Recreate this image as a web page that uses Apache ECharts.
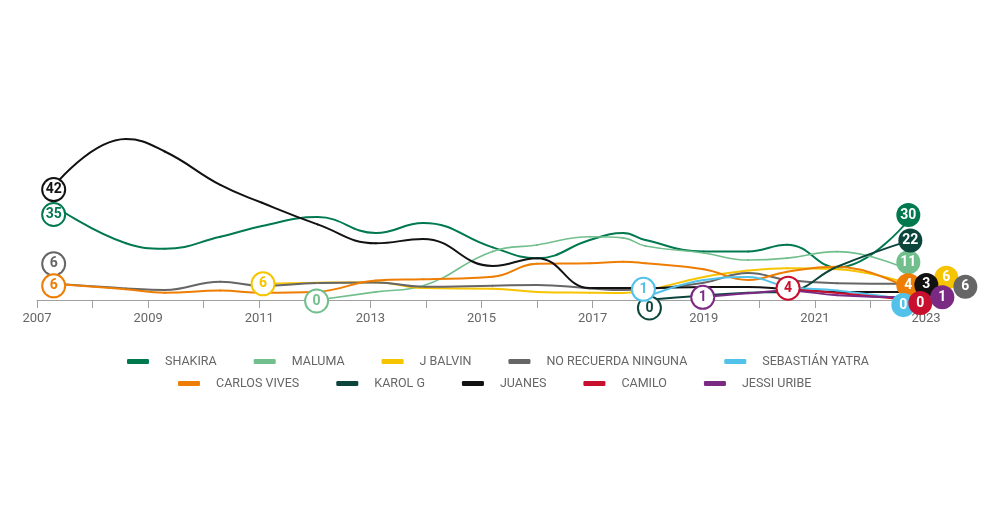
<!DOCTYPE html>
<html>
<head>
<meta charset="utf-8">
<script src="https://cdn.jsdelivr.net/npm/echarts@6/dist/echarts.min.js"></script>
<style>
  html, body { margin: 0; padding: 0; background: #fff; }
  #chart { width: 1000px; height: 530px; }
</style>
</head>
<body>
<div id="chart"></div>
<script>
// Survey dates (fractional years) and values (%) per artist
const dates = [2007.3, 2008.6, 2009.3, 2010.3, 2011.05, 2012.05, 2013.1, 2013.95, 2015.2, 2016.0, 2016.95, 2017.55, 2017.95, 2019.0, 2019.8, 2020.5, 2021.4, 2022.7];

const names = ['SHAKIRA', 'MALUMA', 'J BALVIN', 'NO RECUERDA NINGUNA', 'SEBASTIÁN YATRA',
               'CARLOS VIVES', 'KAROL G', 'JUANES', 'CAMILO', 'JESSI URIBE'];

const shakira     = [35, 21, 19, 23.4, 27.4, 30.7, 24.8, 28.5, 19.5, 15.5, 22.2, 24.8, 22.2, 18, 18, 20.5, 12, 30];
const maluma      = [null, null, null, null, null, 0, 3, 5.3, 18, 20.4, 23.4, 23, 20, 17.4, 14.8, 15.5, 17.9, 11];
const jbalvin     = [null, null, null, null, 6, 6.4, 6.6, 4.4, 4.2, 3, 2.7, 2.6, 3.5, 8.5, 10.9, 11.8, 11.4, 6];
const noRecuerda  = [6, 4.3, 3.7, 6.8, 5.2, 6.3, 6.5, 4.9, 5.3, 5.6, 4.3, 3.7, 4, 6.4, 10, 7.4, 6.2, 6];
const yatra       = [null, null, null, null, null, null, null, null, null, null, null, null, 1, 7.4, 8.5, 4.9, 3.5, 0];
const carlosVives = [6, 4, 2.7, 3.5, 2.7, 3.1, 7.2, 7.7, 8.6, 13.4, 13.6, 14.2, 13.6, 11.4, 7.4, 10.5, 12.3, 4];
const karolG      = [null, null, null, null, null, null, null, null, null, null, null, null, 0, 1.7, 2.7, 3.1, 12.3, 22];
const juanes      = [42, 59.6, 55, 42.6, 36, 28, 21, 22.6, 12.6, 15.5, 4.4, 4.4, 4.4, 4.8, 4.8, 4, 3, 3];
const camilo      = [null, null, null, null, null, null, null, null, null, null, null, null, null, null, null, 4, 2.6, 0];
const jessiUribe  = [null, null, null, null, null, null, null, null, null, null, null, null, null, 1, 2.5, 3.4, 1.8, 1];

const values = [shakira, maluma, jbalvin, noRecuerda, yatra, carlosVives, karolG, juanes, camilo, jessiUribe];

// Styling
const colors = ['#00794f', '#72bf8d', '#f6c400', '#666666', '#52c2ea',
                '#ee7d03', '#0c453c', '#121212', '#c8102e', '#7b2a84'];
// label offsets (px) for the first point and the last point of each series
const startOffset = [[0, 9], [-1, 1], [1, 0], [0, -20], [-2, -8], [0, 2], [4, 8], [0, 3], [1, -1], [-1, 0]];
const endOffset   = [[-1, -4], [-1, -8], [37, -6], [56, 3], [-6, 5], [-1, -4], [1, 0], [17, -7], [11, 3], [33, 0]];
const seriesZ     = [2, 2, 2, 2, 3, 2, 2, 2, 3, 3];

function outlineLabel(c, off, v) {
  return {
    show: true, position: 'inside', offset: off,
    formatter: () => String(v),
    color: c, fontWeight: 'bold', fontSize: 14, fontFamily: 'Roboto',
    backgroundColor: '#ffffff', borderColor: c, borderWidth: 2, borderRadius: 13,
    width: 21, height: 21, lineHeight: 21, align: 'center', verticalAlign: 'middle', padding: 0
  };
}
function filledLabel(c, off, v) {
  return {
    show: true, position: 'inside', offset: off,
    formatter: () => String(v),
    color: '#ffffff', fontWeight: 'bold', fontSize: 14, fontFamily: 'Roboto',
    backgroundColor: c, borderRadius: 12,
    width: 24, height: 24, lineHeight: 24, align: 'center', verticalAlign: 'middle', padding: 0
  };
}

const series = names.map((name, si) => {
  const vals = values[si];
  const pts = [];
  vals.forEach((v, i) => { if (v !== null) pts.push([dates[i], v]); });
  const data = pts.map((p, k) => {
    const item = { value: p };
    if (k === 0) item.label = outlineLabel(colors[si], startOffset[si], Math.round(p[1]));
    if (k === pts.length - 1) item.label = filledLabel(colors[si], endOffset[si], Math.round(p[1]));
    return item;
  });
  return {
    name: name,
    type: 'line',
    smooth: 0.45,
    z: seriesZ[si],
    data: data,
    symbol: 'circle',
    symbolSize: 2,
    showSymbol: true,
    lineStyle: { width: si === 1 ? 1.6 : 2, color: colors[si] },
    itemStyle: { color: colors[si] },
    emphasis: { disabled: true },
    label: { show: false }
  };
});

const legendCommon = {
  icon: 'roundRect',
  itemWidth: 22,
  itemHeight: 5,
  itemGap: 37,
  textStyle: { color: '#666', fontSize: 12.5, fontFamily: 'Roboto', padding: [0, 0, 0, 11] },
  selectedMode: false
};

const chart = echarts.init(document.getElementById('chart'), null, { renderer: 'canvas' });
chart.setOption({
  animation: false,
  color: colors,
  grid: { left: 37, right: 74, top: 111, bottom: 230, containLabel: false },
  legend: [
    Object.assign({}, legendCommon, { top: 350, left: 122, data: names.slice(0, 5) }),
    Object.assign({}, legendCommon, { top: 372, left: 173, data: names.slice(5) })
  ],
  xAxis: {
    type: 'value',
    min: 2007, max: 2023, interval: 1,
    axisLine: { show: true, lineStyle: { color: '#a0a0a0', width: 1 } },
    axisTick: { show: true, length: 8, lineStyle: { color: '#a0a0a0' } },
    axisLabel: {
      margin: 12, color: '#666', fontSize: 13, fontFamily: 'Roboto',
      formatter: v => (v % 2 === 1 ? String(v) : '')
    },
    splitLine: { show: false }
  },
  yAxis: { type: 'value', min: 0, max: 70, show: false },
  series: series
});
</script>
</body>
</html>
